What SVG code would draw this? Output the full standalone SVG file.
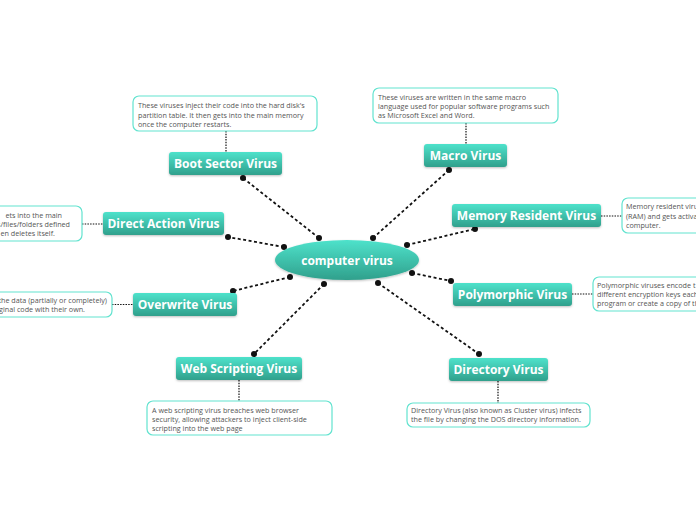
<svg xmlns="http://www.w3.org/2000/svg" width="696" height="520" viewBox="0 0 696 520">
<defs>
<linearGradient id="g" x1="0" y1="0" x2="0" y2="1">
<stop offset="0" stop-color="#4ee2cb"/>
<stop offset="1" stop-color="#30a08c"/>
</linearGradient>
<filter id="sh" x="-10%" y="-20%" width="120%" height="150%">
<feDropShadow dx="0" dy="1" stdDeviation="0.8" flood-color="#000" flood-opacity="0.25"/>
</filter>
</defs>
<style>
.n{fill:url(#g);filter:url(#sh)}
.nt{font-family:"Open Sans","DejaVu Sans",sans-serif;font-weight:bold;font-size:12px;fill:#fff;text-anchor:middle}
.d{fill:#fff;stroke:#62e3cf;stroke-width:1.2}
.dt{font-family:"Open Sans","DejaVu Sans",sans-serif;font-size:7.2px;fill:#555}
.c{stroke:#111;stroke-width:1.8;stroke-dasharray:3 2.5;fill:none}
.s{stroke:#111;stroke-width:1.2;stroke-dasharray:1.5 1.2;fill:none}
.p{fill:#111}
</style>
<rect width="696" height="520" fill="#fff"/>
<g id="connectors">
<line class="c" x1="319" y1="238" x2="243" y2="178"/>
<line class="c" x1="373" y1="238" x2="449" y2="170"/>
<line class="c" x1="284" y1="247" x2="228" y2="237"/>
<line class="c" x1="407" y1="245" x2="475" y2="229"/>
<line class="c" x1="290" y1="277" x2="233" y2="291"/>
<line class="c" x1="412" y1="273" x2="451" y2="281"/>
<line class="c" x1="324" y1="284" x2="254" y2="354"/>
<line class="c" x1="378" y1="283" x2="479" y2="354"/>
<circle class="p" cx="319" cy="238" r="3"/><circle class="p" cx="243" cy="178" r="3"/>
<circle class="p" cx="373" cy="238" r="3"/><circle class="p" cx="449" cy="170" r="3"/>
<circle class="p" cx="284" cy="247" r="3"/><circle class="p" cx="228" cy="237" r="3"/>
<circle class="p" cx="407" cy="245" r="3"/><circle class="p" cx="475" cy="229" r="3"/>
<circle class="p" cx="290" cy="277" r="3"/><circle class="p" cx="233" cy="291" r="3"/>
<circle class="p" cx="412" cy="273" r="3"/><circle class="p" cx="451" cy="281" r="3"/>
<circle class="p" cx="324" cy="284" r="3"/><circle class="p" cx="254" cy="354" r="3"/>
<circle class="p" cx="378" cy="283" r="3"/><circle class="p" cx="479" cy="354" r="3"/>
<line class="s" x1="226" y1="131" x2="226" y2="152"/>
<line class="s" x1="466" y1="123" x2="466" y2="144"/>
<line class="s" x1="82" y1="224" x2="103" y2="224"/>
<line class="s" x1="112" y1="304.5" x2="133" y2="304.5"/>
<line class="s" x1="601" y1="216" x2="622" y2="216"/>
<line class="s" x1="572" y1="294" x2="593" y2="294"/>
<line class="s" x1="239" y1="380" x2="239" y2="401"/>
<line class="s" x1="498" y1="381" x2="498" y2="403"/>
</g>
<g id="center">
<ellipse class="n" cx="347" cy="260" rx="72" ry="20"/>
<text class="nt" x="347" y="264.5">computer virus</text>
</g>
<g id="boot">
<rect class="n" x="169" y="152" width="113" height="23" rx="3"/>
<text class="nt" x="225.5" y="168">Boot Sector Virus</text>
<rect class="d" x="133" y="96" width="184" height="35" rx="6"/>
<text class="dt" x="138" y="107.5">These viruses inject their code into the hard disk's</text>
<text class="dt" x="138" y="117.5">partition table. It then gets into the main memory</text>
<text class="dt" x="138" y="127">once the computer restarts.</text>
</g>
<g id="macro">
<rect class="n" x="424" y="144" width="83" height="23" rx="3"/>
<text class="nt" x="465.5" y="160">Macro Virus</text>
<rect class="d" x="373" y="88" width="185" height="35" rx="6"/>
<text class="dt" x="378" y="99.5">These viruses are written in the same macro</text>
<text class="dt" x="378" y="108.5">language used for popular software programs such</text>
<text class="dt" x="378" y="117.5">as Microsoft Excel and Word.</text>
</g>
<g id="direct">
<rect class="n" x="103" y="212" width="121" height="23" rx="3"/>
<text class="nt" x="163.5" y="228">Direct Action Virus</text>
<rect class="d" x="-10" y="206" width="92" height="35" rx="6"/>
<text class="dt" x="62" y="217.5" text-anchor="end">ets into the main</text>
<text class="dt" x="70" y="226.5" text-anchor="end">s/files/folders defined</text>
<text class="dt" x="55" y="235.5" text-anchor="end">en deletes itself.</text>
</g>
<g id="overwrite">
<rect class="n" x="133" y="293" width="104" height="23" rx="3"/>
<text class="nt" x="185" y="309">Overwrite Virus</text>
<rect class="d" x="-10" y="292" width="122" height="25" rx="6"/>
<text class="dt" x="107" y="302.5" text-anchor="end">the data (partially or completely)</text>
<text class="dt" x="85" y="311.5" text-anchor="end">ginal code with their own.</text>
</g>
<g id="memory">
<rect class="n" x="452" y="204" width="149" height="23" rx="3"/>
<text class="nt" x="526.5" y="220">Memory Resident Virus</text>
<rect class="d" x="622" y="198" width="90" height="35" rx="6"/>
<text class="dt" x="626" y="208.5">Memory resident viru</text>
<text class="dt" x="626" y="218.5">(RAM) and gets activa</text>
<text class="dt" x="626" y="227.5">computer.</text>
</g>
<g id="poly">
<rect class="n" x="453" y="283" width="119" height="23" rx="3"/>
<text class="nt" x="512.5" y="299">Polymorphic Virus</text>
<rect class="d" x="593" y="277" width="120" height="34" rx="6"/>
<text class="dt" x="597" y="287.5">Polymorphic viruses encode t</text>
<text class="dt" x="597" y="296.5">different encryption keys each</text>
<text class="dt" x="597" y="305.5">program or create a copy of th</text>
</g>
<g id="web">
<rect class="n" x="176" y="357" width="126" height="23" rx="3"/>
<text class="nt" x="239" y="373">Web Scripting Virus</text>
<rect class="d" x="147" y="401" width="185" height="34" rx="6"/>
<text class="dt" x="152" y="412.5">A web scripting virus breaches web browser</text>
<text class="dt" x="152" y="421.5">security, allowing attackers to inject client-side</text>
<text class="dt" x="152" y="431">scripting into the web page</text>
</g>
<g id="directory">
<rect class="n" x="449" y="358" width="99" height="23" rx="3"/>
<text class="nt" x="498.5" y="374">Directory Virus</text>
<rect class="d" x="407" y="403" width="183" height="24" rx="6"/>
<text class="dt" x="411" y="412.5">Directory Virus (also known as Cluster virus) infects</text>
<text class="dt" x="411" y="421.5">the file by changing the DOS directory information.</text>
</g>
</svg>
